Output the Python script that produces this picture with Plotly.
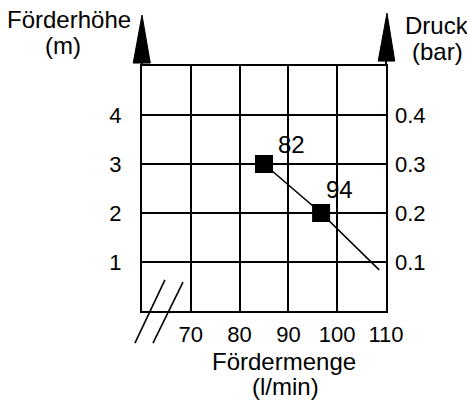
import plotly.graph_objects as go

# Data
x_ticks = [70, 80, 90, 100, 110]
y_left_ticks = [1, 2, 3, 4]
y_right_ticks = [0.1, 0.2, 0.3, 0.4]
y_right_labels = ["0.1", "0.2", "0.3", "0.4"]
point_x = [85, 96.7]
point_y = [3, 2]
point_labels = ["82", "94"]
line_x = [85, 96.7, 108.6]
line_y = [3, 2, 0.84]

FONT = "Liberation Sans, Arial, sans-serif"
BLK = "#000000"

fig = go.Figure()
fig.add_trace(go.Scatter(x=line_x, y=line_y, mode="lines",
                         line=dict(color=BLK, width=1.6), showlegend=False,
                         hoverinfo="skip"))
fig.add_trace(go.Scatter(x=point_x, y=point_y, mode="markers",
                         marker=dict(symbol="square", size=18, color=BLK,
                                     line=dict(width=0)),
                         showlegend=False))
# invisible trace for right axis
fig.add_trace(go.Scatter(x=[60], y=[0], yaxis="y2", mode="markers",
                         marker=dict(opacity=0), showlegend=False,
                         hoverinfo="skip"))

shifts = [(27, 20), (18, 24)]
for px, py, lab, (dx, dy) in zip(point_x, point_y, point_labels, shifts):
    fig.add_annotation(x=px, y=py, text=lab, showarrow=False, xshift=dx,
                       yshift=dy, font=dict(size=24, color=BLK, family=FONT))

ann_font = dict(size=24, color=BLK, family=FONT)
texts = [
    ("Förderhöhe", -0.30, 1.19), ("(m)", -0.325, 1.085),
    ("Druck", 1.21, 1.165), ("(bar)", 1.21, 1.06),
    ("Fördermenge", 0.58, -0.207), ("(l/min)", 0.59, -0.31),
]
for t, xp, yp in texts:
    fig.add_annotation(x=xp, y=yp, xref="paper", yref="paper", text=t,
                       showarrow=False, font=ann_font, xanchor="center",
                       yanchor="middle")

shapes = []
# arrows
shapes.append(dict(type="path", xref="paper", yref="paper",
                   path="M -0.036 1.012 L 0 1.208 L 0.034 1.012 Z",
                   fillcolor=BLK, line=dict(color=BLK, width=1)))
shapes.append(dict(type="line", xref="paper", yref="paper", x0=0, x1=0,
                   y0=1, y1=1.02, line=dict(color=BLK, width=2)))
shapes.append(dict(type="path", xref="paper", yref="paper",
                   path="M 0.968 1.02 L 1.004 1.216 L 1.036 1.02 Z",
                   fillcolor=BLK, line=dict(color=BLK, width=1)))
shapes.append(dict(type="line", xref="paper", yref="paper", x0=1, x1=1,
                   y0=1, y1=1.03, line=dict(color=BLK, width=2)))
# axis break
shapes.append(dict(type="line", xref="paper", yref="paper", x0=-0.029,
                   y0=-0.131, x1=0.094, y1=0.127,
                   line=dict(color=BLK, width=1.6)))
shapes.append(dict(type="line", xref="paper", yref="paper", x0=0.045,
                   y0=-0.131, x1=0.168, y1=0.118,
                   line=dict(color=BLK, width=1.6)))

tick_font = dict(size=22, color=BLK, family=FONT)
fig.update_layout(
    width=467, height=400,
    margin=dict(l=142, r=81, t=66, b=89, autoexpand=False),
    paper_bgcolor="white", plot_bgcolor="white",
    showlegend=False,
    shapes=shapes,
    xaxis=dict(range=[60, 110], tickvals=x_ticks,
               ticktext=[str(v) for v in x_ticks], automargin=False,
               showgrid=True, gridcolor=BLK, gridwidth=2,
               showline=True, linecolor=BLK, linewidth=2, mirror=True,
               ticks="", ticklabelstandoff=3, tickfont=tick_font,
               zeroline=False, fixedrange=True),
    yaxis=dict(range=[0, 5], tickvals=y_left_ticks,
               ticktext=[str(v) for v in y_left_ticks], automargin=False,
               showgrid=True, gridcolor=BLK, gridwidth=2,
               showline=True, linecolor=BLK, linewidth=2, mirror=True,
               ticks="", ticklabelstandoff=14, tickfont=tick_font,
               zeroline=False, fixedrange=True),
    yaxis2=dict(range=[0, 0.5], tickvals=y_right_ticks, automargin=False,
                ticktext=y_right_labels, overlaying="y", side="right",
                showgrid=False, showline=False, ticks="",
                ticklabelstandoff=8, tickfont=tick_font,
                zeroline=False, fixedrange=True),
)

fig.write_html("out.html", config={"displayModeBar": False},
               post_script="document.body.style.margin='0';"
                           "document.body.style.overflow='hidden';")
